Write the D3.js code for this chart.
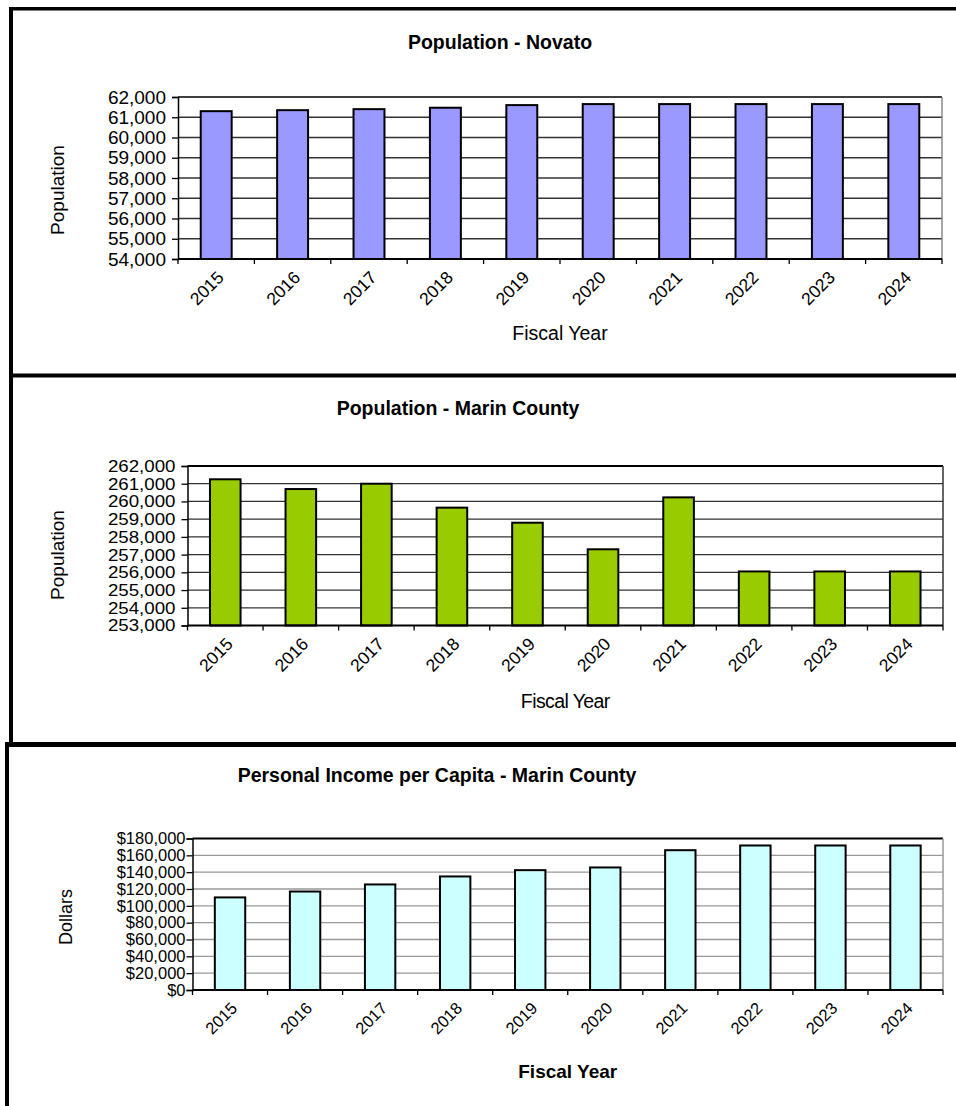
<!DOCTYPE html>
<html>
<head>
<meta charset="utf-8">
<script src="https://cdn.jsdelivr.net/npm/d3@7/dist/d3.min.js"></script>
<style>
  html, body { margin: 0; padding: 0; background: #fff; }
  svg { display: block; }
  text { font-family: Arial, "Liberation Sans", sans-serif; fill: #000; }
</style>
</head>
<body>
<script>
// Fiscal years shared by all three panels
const years = ["2015", "2016", "2017", "2018", "2019", "2020", "2021", "2022", "2023", "2024"];

// Population - Novato
const novatoPopulation = [61300, 61350, 61400, 61470, 61600, 61650, 61650, 61650, 61650, 61650];
const novatoTicks = [54000, 55000, 56000, 57000, 58000, 59000, 60000, 61000, 62000];

// Population - Marin County
const marinPopulation = [261250, 260700, 261000, 259650, 258800, 257300, 260230, 256050, 256050, 256050];
const marinTicks = [253000, 254000, 255000, 256000, 257000, 258000, 259000, 260000, 261000, 262000];

// Personal income per capita - Marin County
const marinIncome = [110000, 117000, 125400, 134900, 142400, 145600, 166100, 171700, 171700, 171700];
const incomeTicks = [0, 20000, 40000, 60000, 80000, 100000, 120000, 140000, 160000, 180000];

const W = 956, H = 1106;
const svg = d3.select("body").append("svg").attr("width", W).attr("height", H);

// Panel frames (thick black rules)
const frame = svg.append("g").attr("fill", "#000");
frame.append("rect").attr("x", 9).attr("y", 7).attr("width", W - 9).attr("height", 3.5);
frame.append("rect").attr("x", 9).attr("y", 7).attr("width", 4).attr("height", 740);
frame.append("rect").attr("x", 9).attr("y", 373.5).attr("width", W - 9).attr("height", 4);
frame.append("rect").attr("x", 5).attr("y", 742).attr("width", W - 5).attr("height", 5);
frame.append("rect").attr("x", 5).attr("y", 742).attr("width", 4).attr("height", H - 742);

const fmtNum = d3.format(",");
const fmtDollar = d => "$" + d3.format(",")(d);

function panel(cfg) {
  const g = svg.append("g");
  const x = d3.scaleBand().domain(years).range([cfg.left, cfg.right]).padding(0);
  const y = d3.scaleLinear().domain([cfg.ticks[0], cfg.ticks[cfg.ticks.length - 1]]).range([cfg.bottom, cfg.top]);

  // horizontal gridlines
  g.append("g").selectAll("line").data(cfg.ticks.slice(1, -1)).join("line")
    .attr("x1", cfg.left).attr("x2", cfg.right)
    .attr("y1", d => y(d)).attr("y2", d => y(d))
    .attr("stroke", cfg.gridColor).attr("stroke-width", 1.3);

  // plot frame: top and right edges
  g.append("line").attr("x1", cfg.left).attr("x2", cfg.right)
    .attr("y1", cfg.top).attr("y2", cfg.top)
    .attr("stroke", "#000").attr("stroke-width", cfg.topWidth);
  g.append("line").attr("x1", cfg.right).attr("x2", cfg.right)
    .attr("y1", cfg.top).attr("y2", cfg.bottom)
    .attr("stroke", cfg.rightColor).attr("stroke-width", 1.5);

  // bars
  const step = x.step();
  const bw = step * 0.405;
  g.append("g").selectAll("rect").data(cfg.values).join("rect")
    .attr("x", (d, i) => x(years[i]) + (step - bw) / 2)
    .attr("width", bw)
    .attr("y", d => y(d))
    .attr("height", d => y(cfg.ticks[0]) - y(d))
    .attr("fill", cfg.color)
    .attr("stroke", "#000").attr("stroke-width", 2);

  // y axis
  const yAxis = d3.axisLeft(y).tickValues(cfg.ticks).tickFormat(cfg.fmt).tickSize(6).tickPadding(cfg.tickPad);
  const ya = g.append("g").attr("transform", `translate(${cfg.left},0)`).call(yAxis);
  ya.select(".domain").attr("stroke", "#000").attr("stroke-width", 1.5);
  ya.selectAll(".tick line").attr("stroke", "#000").attr("stroke-width", 1.3);
  ya.selectAll("text").style("font-size", cfg.tickFont + "px")
    .style("font-family", "Arial, 'Liberation Sans', sans-serif").attr("fill", "#000");
  if (cfg.tickStretch) {
    // widen the compact labels horizontally so they keep their usual width
    ya.selectAll("text").each(function () {
      const len = this.getComputedTextLength();
      d3.select(this).attr("textLength", len * cfg.tickStretch).attr("lengthAdjust", "spacingAndGlyphs");
    });
  }

  // x axis: tick marks at category boundaries
  const xa = g.append("g");
  xa.append("line").attr("x1", cfg.left).attr("x2", cfg.right)
    .attr("y1", cfg.bottom).attr("y2", cfg.bottom)
    .attr("stroke", "#000").attr("stroke-width", 2);
  const bounds = years.map(d => x(d)).concat([cfg.right]);
  xa.selectAll("line.tk").data(bounds).join("line").attr("class", "tk")
    .attr("x1", d => d).attr("x2", d => d)
    .attr("y1", cfg.bottom).attr("y2", cfg.bottom + 5)
    .attr("stroke", "#000").attr("stroke-width", 1.3);
  xa.selectAll("text").data(years).join("text")
    .attr("transform", d => `translate(${x(d) + step / 2},${cfg.bottom + 11}) rotate(-45)`)
    .attr("text-anchor", "end")
    .attr("dy", "0.7em")
    .style("font-size", cfg.xTickFont + "px")
    .text(d => d);

  // titles
  g.append("text").attr("x", cfg.titleX).attr("y", cfg.titleY)
    .attr("text-anchor", "middle").style("font-size", "19.5px").style("font-weight", "bold")
    .text(cfg.title);
  g.append("text").attr("x", (cfg.left + cfg.right) / 2).attr("y", cfg.xTitleY)
    .attr("text-anchor", "middle").style("font-size", cfg.xTitleSize + "px")
    .style("font-weight", cfg.xTitleBold ? "bold" : "normal")
    .style("letter-spacing", cfg.xTitleSpacing || "0px")
    .text("Fiscal Year");
  g.append("text")
    .attr("transform", `translate(${cfg.yTitleX},${cfg.yTitleY}) rotate(-90)`)
    .attr("text-anchor", "middle").style("font-size", cfg.yTitleSize + "px")
    .text(cfg.yTitle);
}

panel({
  title: "Population  - Novato", titleX: 500, titleY: 49,
  values: novatoPopulation, ticks: novatoTicks, fmt: fmtNum,
  left: 178, right: 942, top: 97, bottom: 259,
  color: "#9999ff", gridColor: "#333", rightColor: "#888", topWidth: 1.3,
  tickFont: 19, tickPad: 6, xTickFont: 17.5, xTitleY: 340, xTitleSize: 19.5, xTitleBold: false,
  yTitle: "Population", yTitleX: 64, yTitleY: 190, yTitleSize: 19
});

panel({
  title: "Population  - Marin County", titleX: 458, titleY: 415,
  values: marinPopulation, ticks: marinTicks, fmt: fmtNum,
  left: 187.5, right: 943, top: 466, bottom: 625.5,
  color: "#99cc00", gridColor: "#333", rightColor: "#333", topWidth: 2,
  tickFont: 17, tickStretch: 1.1, tickPad: 6, xTickFont: 17.5, xTitleY: 708, xTitleSize: 19.5, xTitleBold: false,
  xTitleSpacing: "-0.6px",
  yTitle: "Population", yTitleX: 64, yTitleY: 555, yTitleSize: 19
});

panel({
  title: "Personal Income per Capita - Marin County", titleX: 437, titleY: 782,
  values: marinIncome, ticks: incomeTicks, fmt: fmtDollar,
  left: 192.5, right: 943, top: 838.5, bottom: 990,
  color: "#ccffff", gridColor: "#999", rightColor: "#999", topWidth: 2,
  tickFont: 16.5, tickPad: 1, xTickFont: 16.5, xTitleY: 1078, xTitleSize: 19, xTitleBold: true,
  yTitle: "Dollars", yTitleX: 72, yTitleY: 917, yTitleSize: 18
});
</script>
</body>
</html>
